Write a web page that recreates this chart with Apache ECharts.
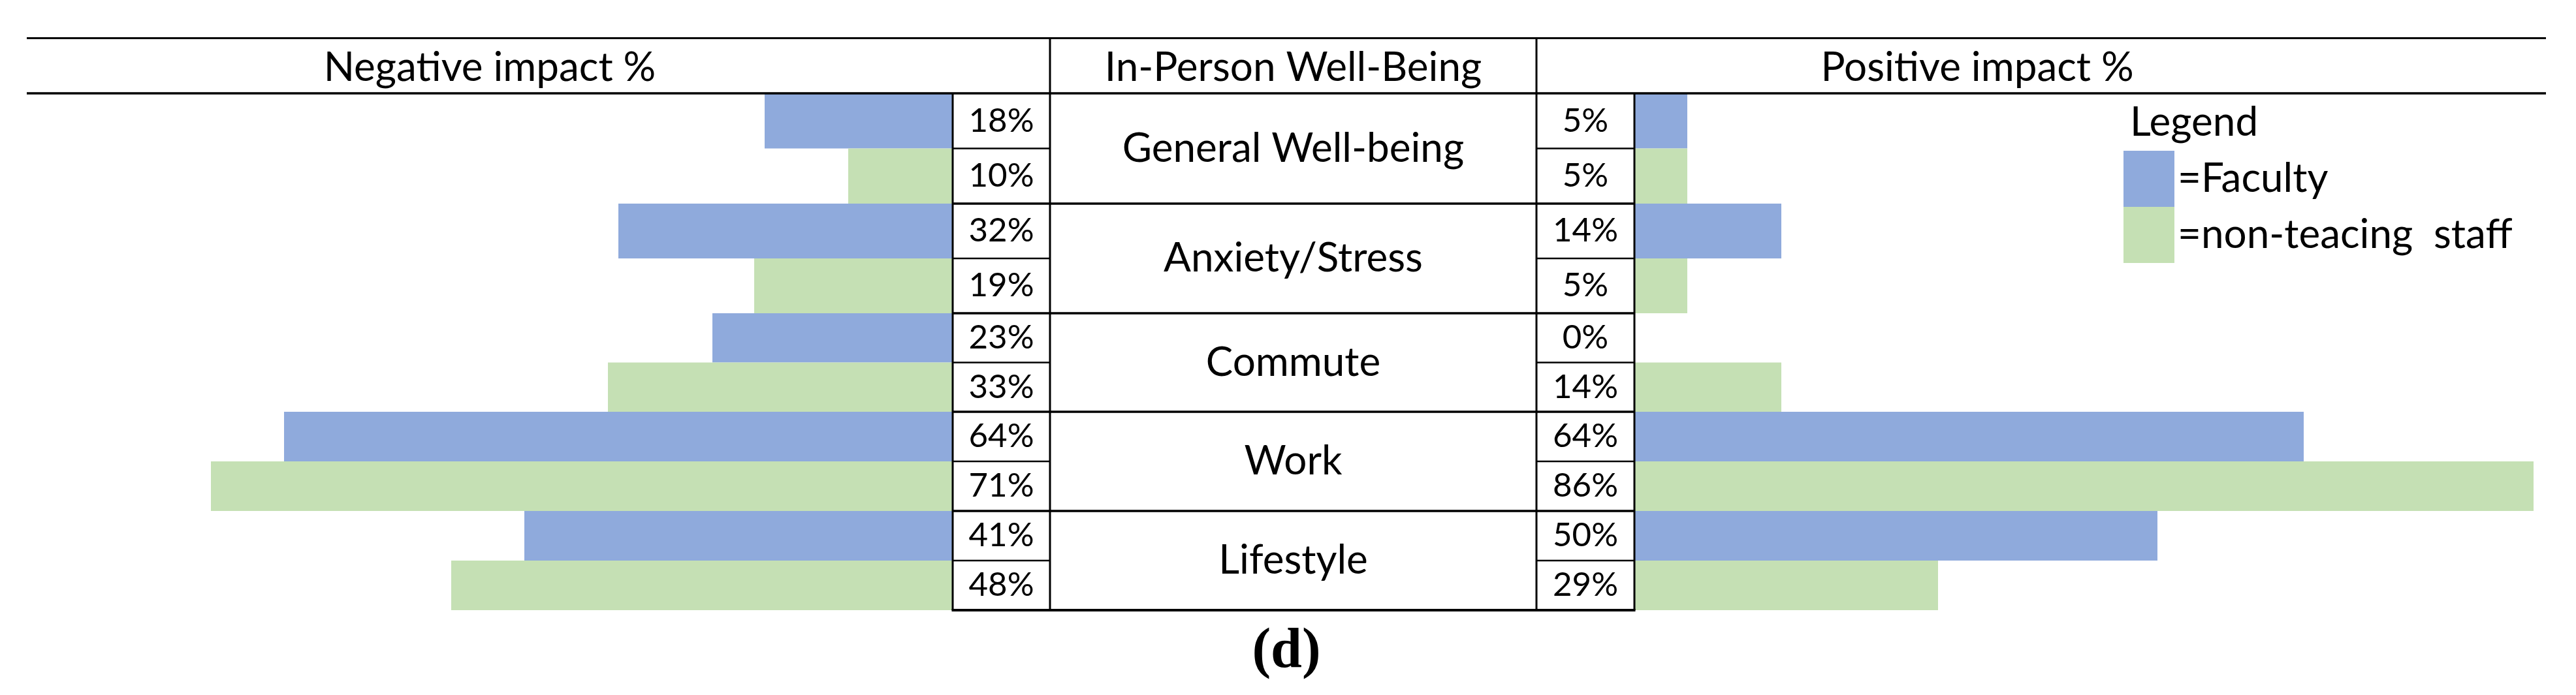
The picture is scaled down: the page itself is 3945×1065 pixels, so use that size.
<!DOCTYPE html>
<html><head><meta charset="utf-8">
<script src="https://cdn.jsdelivr.net/npm/echarts@6/dist/echarts.min.js"></script>
<style>html,body{margin:0;padding:0;background:#fff}#c{width:3945px;height:1065px}</style>
</head><body><div id="c"></div>
<script>
// ---- data ----
const categories = ['General Well-being','Anxiety/Stress','Commute','Work','Lifestyle'];
const facultyNegative = [18,32,23,64,41];
const staffNegative = [10,19,33,71,48];
const facultyPositive = [5,14,0,64,50];
const staffPositive = [5,5,14,86,29];
const seriesNames = ['Faculty','non-teacing  staff'];
const headers = ['Negative impact %','In-Person Well-Being','Positive impact %'];
const legendTitle = 'Legend';
const caption = '(d)';

// ---- layout / style ----
const groupEdges = [143,312,480,631,783,935];
const cellL = 1459, centerL = 1608, centerR = 2353, cellR = 2503, posLeft = 2504;
const pxPerPct = 16, axisMax = 90;
const colors = ['#8FAADC','#C5E0B4'];
const FONT = 'Lato';
const TXT = 62;

const grid = [], xAxis = [], yAxis = [], series = [];
categories.forEach((cat, i) => {
  const top = groupEdges[i], height = groupEdges[i+1] - groupEdges[i];
  [['neg', facultyNegative[i], staffNegative[i]], ['pos', facultyPositive[i], staffPositive[i]]].forEach(([side, fv, sv]) => {
    const g = grid.length;
    const isNeg = side === 'neg';
    grid.push({left: isNeg ? cellL - axisMax*pxPerPct : posLeft, width: axisMax*pxPerPct, top, height, containLabel:false});
    xAxis.push({gridIndex:g, type:'value', min:0, max:axisMax, inverse:isNeg, show:false});
    const mainY = yAxis.length;
    yAxis.push({gridIndex:g, type:'category', data:['f','s'], inverse:true, show:false});
    const vals = [fv, sv];
    yAxis.push({gridIndex:g, type:'category', data:['f','s'], inverse:true, position: isNeg ? 'right' : 'left',
      axisLine:{show:false}, axisTick:{show:false}, splitLine:{show:false},
      axisLabel:{margin: isNeg ? (centerL-cellL)/2 : posLeft - (centerR+cellR)/2, align:'center',
        formatter:(v, idx) => vals[idx] + '%', fontSize:51, fontFamily:FONT, color:'#000', padding:[10,0,0,0]}});
    if (isNeg) {
      yAxis.push({gridIndex:g, type:'category', data:[cat], position:'right', offset:0,
        axisLine:{show:false}, axisTick:{show:false}, splitLine:{show:false},
        axisLabel:{margin:(centerL+centerR)/2 - cellL, align:'center', fontSize:TXT, fontFamily:FONT, color:'#000'}});
    }
    series.push({type:'bar', name:seriesNames[0], xAxisIndex:g, yAxisIndex:mainY, stack:'s'+g, barWidth:'100%',
      data:[fv,'-'], itemStyle:{color:colors[0]}, silent:true});
    series.push({type:'bar', name:seriesNames[1], xAxisIndex:g, yAxisIndex:mainY, stack:'s'+g, barWidth:'100%',
      data:['-',sv], itemStyle:{color:colors[1]}, silent:true});
  });
});

const graphic = [];
function line(x1,y1,x2,y2,w){ graphic.push({type:'line', z:100, shape:{x1,y1,x2,y2}, style:{stroke:'#000', lineWidth:w}, silent:true}); }
function text(t,x,y,size,align,family,weight){ graphic.push({type:'text', z:100, x, y, style:{text:t, fill:'#000', font:(weight||'normal')+' '+size+'px '+(family||FONT), textAlign:align||'center', textVerticalAlign:'middle'}, silent:true}); }

line(41,58.5,3899,58.5,3);
line(41,143,3899,143,3.5);
line(centerL,58,centerL,935,3);
line(centerR,58,centerR,935,3);
line(cellL,143,cellL,935,3);
line(cellR,143,cellR,935,3);
for (let i=1;i<groupEdges.length-1;i++) line(cellL,groupEdges[i],cellR,groupEdges[i],3.5);
line(cellL-1.5,935,cellR+1.5,935,4);
for (let i=0;i<categories.length;i++){
  const m = (groupEdges[i]+groupEdges[i+1])/2;
  line(cellL,m,centerL,m,2.5);
  line(centerR,m,cellR,m,2.5);
}
text(headers[0],750,104,TXT);
text(headers[1],(centerL+centerR)/2,104,TXT);
text(headers[2],3028,104,TXT);
text(legendTitle,3262,188,TXT,'left');
text(caption,1970,1000,86,'center','Liberation Serif','bold');

const chart = echarts.init(document.getElementById('c'));
chart.setOption({
  animation:false,
  backgroundColor:'#fff',
  grid, xAxis, yAxis, series, graphic,
  legend:{data:seriesNames, orient:'vertical', left:3247, top:226, itemWidth:78, itemHeight:86, itemGap:0,
    icon:'rect', selectedMode:false, formatter:n => '=' + n,
    textStyle:{fontSize:TXT, fontFamily:FONT, color:'#000'}}
});
</script></body></html>
